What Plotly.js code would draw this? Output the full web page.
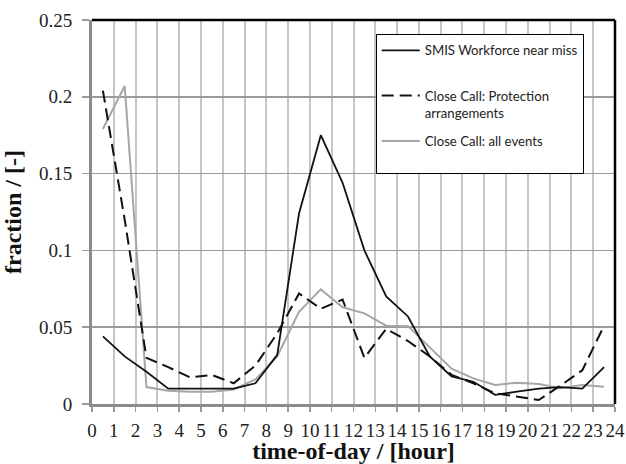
<!DOCTYPE html>
<html>
<head>
<meta charset="utf-8">
<script src="https://cdn.plot.ly/plotly-3.0.1.min.js"></script>
<style>
html,body{margin:0;padding:0;background:#fff;}
#chart{width:626px;height:464px;}
</style>
</head>
<body>
<div id="chart"></div>
<script>
// hour-of-day bin centres
const hours = [0.5,1.5,2.5,3.5,4.5,5.5,6.5,7.5,8.5,9.5,10.5,11.5,12.5,13.5,14.5,15.5,16.5,17.5,18.5,19.5,20.5,21.5,22.5,23.5];
const xTickVals = [0,1,2,3,4,5,6,7,8,9,10,11,12,13,14,15,16,17,18,19,20,21,22,23,24];

// series values (fraction)
const smisWorkforce = [0.044,0.031,0.021,0.010,0.010,0.010,0.010,0.0135,0.032,0.124,0.175,0.144,0.100,0.070,0.057,0.031,0.018,0.0145,0.006,0.008,0.010,0.011,0.010,0.024];
const closeCallProtection = [0.204,0.120,0.030,0.024,0.0173,0.0189,0.0135,0.025,0.046,0.072,0.062,0.068,0.030,0.049,0.041,0.031,0.019,0.0135,0.007,0.0047,0.0026,0.012,0.022,0.051];
const closeCallAll = [0.179,0.207,0.011,0.0087,0.008,0.008,0.0095,0.016,0.031,0.060,0.0746,0.063,0.059,0.051,0.0507,0.037,0.023,0.0167,0.0124,0.0139,0.013,0.0102,0.0124,0.0113];

const names = ["SMIS Workforce near miss<br> ", "Close Call: Protection<br>arrangements", "Close Call: all events<br> "];

const traces = [
  {x: hours, y: closeCallAll, type: 'scatter', mode: 'lines', name: names[2],
   legendrank: 3, legendgroup: 'c',
   line: {color: '#a6a6a6', width: 2}},
  {x: hours, y: closeCallProtection, type: 'scatter', mode: 'lines', name: names[1],
   legendrank: 2, legendgroup: 'b',
   line: {color: '#111', width: 2, dash: '12px,6px'}},
  {x: hours, y: smisWorkforce, type: 'scatter', mode: 'lines', name: names[0],
   legendrank: 1, legendgroup: 'a',
   line: {color: '#111', width: 1.8}}
];

const serif = '"Liberation Serif", "Times New Roman", serif';

const layout = {
  width: 626, height: 464,
  margin: {l: 92, r: 11, t: 20, b: 60},
  paper_bgcolor: '#fff', plot_bgcolor: '#fff',
  showlegend: true,
  legend: {
    x: 0.5425, y: 0.963, xanchor: 'left', yanchor: 'top',
    bgcolor: '#fff', bordercolor: '#000', borderwidth: 1,
    font: {family: 'Lato, "Liberation Sans", sans-serif', size: 13.2, color: '#222'},
    valign: 'top', tracegroupgap: 8, traceorder: 'grouped', itemwidth: 38
  },
  xaxis: {
    range: [0, 24], tickvals: xTickVals, ticktext: xTickVals.map(String),
    ticks: 'outside', ticklen: 5, tickwidth: 1.5, tickcolor: '#999',
    showline: true, linecolor: '#8c8c8c', linewidth: 3,
    showgrid: true, gridcolor: '#c6c6c6', gridwidth: 2, zeroline: false,
    tickfont: {family: serif, size: 19, color: '#222'},
    ticklabelstandoff: 2,
    title: {text: 'time-of-day / [hour]', standoff: 6,
            font: {family: serif, size: 24, color: '#111', weight: 'bold'}},
    automargin: false
  },
  yaxis: {
    range: [0, 0.25], dtick: 0.05, tick0: 0,
    ticks: 'outside', ticklen: 7, tickwidth: 1.5, tickcolor: '#999',
    showline: true, linecolor: '#8c8c8c', linewidth: 3,
    showgrid: true, gridcolor: '#9a9a9a', gridwidth: 1.5, zeroline: false,
    tickfont: {family: serif, size: 19, color: '#222'},
    ticklabelstandoff: 6,
    title: {text: 'fraction / [-]', standoff: 12,
            font: {family: serif, size: 24, color: '#111', weight: 'bold'}},
    automargin: false
  },
  shapes: [
    {type: 'line', xref: 'paper', yref: 'paper', x0: 0, x1: 1, y0: 1, y1: 1,
     line: {color: '#000', width: 2.5}, layer: 'above'},
    {type: 'line', xref: 'paper', yref: 'paper', x0: 1, x1: 1, y0: 0, y1: 1,
     line: {color: '#000', width: 2.5}, layer: 'above'}
  ]
};

Plotly.newPlot('chart', traces, layout, {displayModeBar: false, staticPlot: true});
</script>
</body>
</html>
